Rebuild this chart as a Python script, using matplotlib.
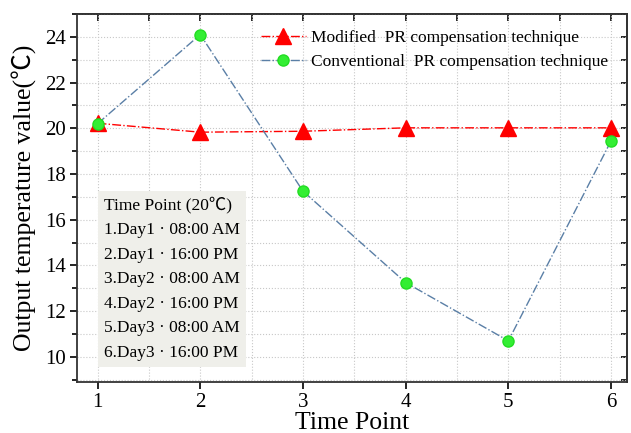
import matplotlib.pyplot as plt
from matplotlib.ticker import MultipleLocator, NullFormatter

plt.rcParams['font.family'] = ['Liberation Serif', 'Noto Sans CJK SC', 'DejaVu Serif']

timePoints = [1, 2, 3, 4, 5, 6]
modified = [20.22, 19.83, 19.87, 20.02, 20.02, 20.02]
conventional = [20.2, 24.1, 17.25, 13.25, 10.7, 19.45]
boxLines = ["Time Point (20℃)",
            "1.Day1 · 08:00 AM",
            "2.Day1 · 16:00 PM",
            "3.Day2 · 08:00 AM",
            "4.Day2 · 16:00 PM",
            "5.Day3 · 08:00 AM",
            "6.Day3 · 16:00 PM"]

fig = plt.figure(figsize=(6.31, 4.33), dpi=100)
ax = fig.add_axes([77 / 631, 1 - 382 / 433, 550 / 631, 368 / 433])

ax.plot(timePoints, modified, color="red", linestyle="-.", linewidth=1,
        marker="^", markersize=11, label="Modified  PR compensation technique", zorder=3)
ax.plot(timePoints, conventional, color="#5a7fa6", linestyle="-.", linewidth=1,
        marker="o", markersize=8, markerfacecolor="#33ee33", markeredgecolor="#22dd22",
        label="Conventional  PR compensation technique", zorder=4)

ax.set_xlim(0.8, 6.155)
ax.set_ylim(8.9, 25)
ax.xaxis.set_major_locator(MultipleLocator(1))
ax.xaxis.set_minor_locator(MultipleLocator(0.5))
ax.yaxis.set_major_locator(MultipleLocator(2))
ax.yaxis.set_minor_locator(MultipleLocator(1))
ax.tick_params(which="major", direction="out", length=5, width=1.2, labelsize=15, pad=3)
ax.tick_params(axis="y", which="minor", direction="out", length=3.5, width=1.2)
ax.tick_params(axis="x", which="minor", length=0)
ax.grid(which="both", linestyle=":", color="#c8c8c8", linewidth=0.8)
for s in ax.spines.values():
    s.set_linewidth(1.3)
    s.set_color("#333333")

# inward ticks on the top and right spines
top = ax.secondary_xaxis("top")
top.xaxis.set_major_locator(MultipleLocator(0.5))
top.xaxis.set_major_formatter(NullFormatter())
top.tick_params(direction="in", length=5, width=1.2)
right = ax.secondary_yaxis("right")
right.yaxis.set_major_locator(MultipleLocator(1))
right.yaxis.set_major_formatter(NullFormatter())
right.tick_params(direction="in", length=4, width=1.2)
for sec in (top, right):
    for s in sec.spines.values():
        s.set_linewidth(1.3)
        s.set_color("#333333")

ax.set_xlabel("Time Point", fontsize=18.5, labelpad=0)
ax.set_ylabel("Output temperature value(℃)", fontsize=18.5, labelpad=6)

leg = ax.legend(loc="upper right", bbox_to_anchor=(0.985, 0.984), frameon=False,
                fontsize=12.5, handlelength=2.6, borderaxespad=0.2,
                labelspacing=0.45, handletextpad=0.3)

ax.text(0.049, 0.503, "\n".join(boxLines), transform=ax.transAxes, fontsize=12.5,
        va="top", ha="left", linespacing=1.71,
        bbox=dict(boxstyle="square,pad=0.35", facecolor="#efefea", edgecolor="none"),
        zorder=5)

fig.savefig("out.png", dpi=100)
